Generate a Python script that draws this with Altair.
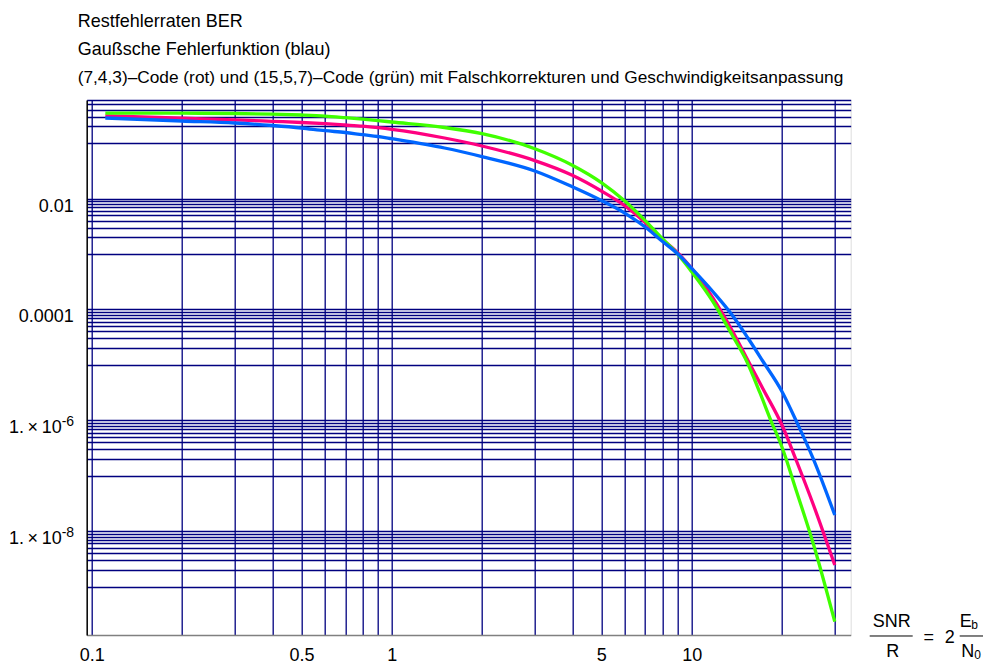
import altair as alt
import pandas as pd

# ---------------- data ----------------
blue_x = [0.111, 0.2, 0.3, 0.4, 0.5, 0.6, 0.7, 0.8, 0.9, 1.0, 1.5, 2.0, 3.0, 4.0, 5.0, 6.0, 7.0,
          8.0, 9.0, 10.0, 11.8, 13.7, 15.4, 17.3, 20.0, 22.4, 25.4, 30.0]
blue_y = [0.284, 0.251, 0.231, 0.208, 0.1875, 0.1676, 0.1555, 0.142, 0.1318, 0.1202, 0.0817, 0.0572,
          0.03144, 0.01631, 0.00923, 0.00542, 0.00307, 0.00168, 0.00100, 0.000550, 0.000206, 7.71e-5,
          3.05e-5, 1.15e-5, 3.31e-6, 9.32e-7, 2.06e-7, 1.96e-8]

red_x = [0.111, 0.2, 0.3, 0.4, 0.5, 0.6, 0.7, 0.8, 0.9, 1.0, 1.5, 2.0, 3.0, 4.0, 5.0, 6.0, 7.0,
         8.0, 9.0, 10.0, 11.8, 13.7, 15.6, 17.3, 20.0, 22.4, 25.4, 30.0]
red_y = [0.3113, 0.2818, 0.2636, 0.2477, 0.2357, 0.2242, 0.2125, 0.2021, 0.1899, 0.1777, 0.1238, 0.0888,
         0.0484, 0.0263, 0.0137, 0.00735, 0.00370, 0.001827, 0.001043, 0.000550, 0.0001576, 4.0e-5,
         1.054e-5, 3.67e-6, 8.23e-7, 1.806e-7, 3.09e-8, 2.45e-9]

green_x = [0.111, 0.2, 0.3, 0.4, 0.5, 0.6, 0.7, 0.8, 0.9, 1.0, 1.5, 2.0, 3.0, 4.0, 5.0, 6.0, 7.0,
           8.0, 9.0, 10.0, 11.8, 13.7, 15.3, 16.9, 18.4, 20.0, 22.4, 25.4, 30.0]
green_y = [0.3467, 0.3467, 0.3424, 0.334, 0.3218, 0.3074, 0.2877, 0.2703, 0.255, 0.2406, 0.1915, 0.148,
           0.0793, 0.04, 0.01941, 0.00893, 0.0040, 0.001866, 0.000984, 0.00048, 0.0001362, 3.32e-5,
           1.126e-5, 3.11e-6, 9.71e-7, 3.3e-7, 5.09e-8, 6.12e-9, 2.33e-10]

x_grid = [0.1, 0.2, 0.3, 0.4, 0.5, 0.6, 0.7, 0.8, 0.9, 1, 2, 3, 4, 5, 6, 7, 8, 9, 10, 20, 30]
x_labels = [0.1, 0.5, 1, 5, 10]

y_grid = [0.1, 0.2, 0.3, 0.4, 0.5, 0.6,
          0.001, 0.002, 0.003, 0.004, 0.005, 0.006, 0.007, 0.008, 0.009, 0.01,
          1e-5, 2e-5, 3e-5, 4e-5, 5e-5, 6e-5, 7e-5, 8e-5, 9e-5, 1e-4,
          1e-7, 2e-7, 3e-7, 4e-7, 5e-7, 6e-7, 7e-7, 8e-7, 9e-7, 1e-6,
          1e-9, 2e-9, 3e-9, 4e-9, 5e-9, 6e-9, 7e-9, 8e-9, 9e-9, 1e-8]

y_plain_vals = [0.01, 0.0001]
y_plain_text = ["0.01", "0.0001"]
y_pow_vals = [1e-6, 1e-8]
y_pow_base = ["1.\u2009×\u200910", "1.\u2009×\u200910"]
y_pow_sup = ["-6", "-8"]

x_domain = [0.0962, 33.9]
y_domain = [1.34e-10, 0.6]

title_lines = [
    "Restfehlerraten BER",
    "Gaußsche Fehlerfunktion (blau)",
    "(7,4,3)–Code (rot) und (15,5,7)–Code (grün) mit  Falschkorrekturen und Geschwindigkeitsanpassung",
]

FONT = "Liberation Sans"
NAVY = "#00007f"

curves = pd.concat([
    pd.DataFrame({"x": red_x, "y": red_y, "s": "rot"}),
    pd.DataFrame({"x": green_x, "y": green_y, "s": "grün"}),
    pd.DataFrame({"x": blue_x, "y": blue_y, "s": "blau"}),
])

xs = alt.Scale(type="log", domain=x_domain, nice=False)
ys = alt.Scale(type="log", domain=y_domain, nice=False)

x_axis = alt.Axis(values=x_grid, grid=True, gridColor=NAVY, gridWidth=1.3, ticks=False,
                  domainColor="#808080", domainWidth=1.5, labelFont=FONT, labelFontSize=18,
                  labelColor="black", labelPadding=12, labelOverlap=False, labelFlush=False,
                  format="~g",
                  labelExpr="indexof([0.1, 0.5, 1, 5, 10], datum.value) >= 0 ? datum.label : ''",
                  title=None)
y_axis = alt.Axis(values=y_grid, grid=True, gridColor=NAVY, gridWidth=1.3, ticks=False,
                  labels=False, domainColor="black", domainWidth=1.5, title=None)

base = alt.Chart(curves)

grid = base.mark_point(opacity=0).encode(
    x=alt.X("x:Q", scale=xs, axis=x_axis),
    y=alt.Y("y:Q", scale=ys, axis=y_axis),
)

colors = alt.Scale(domain=["rot", "grün", "blau"], range=["#FF0080", "#40FF00", "#0066FF"])
lines = base.mark_line(strokeWidth=3.3, interpolate="monotone").encode(
    x=alt.X("x:Q", scale=xs),
    y=alt.Y("y:Q", scale=ys),
    color=alt.Color("s:N", scale=colors, legend=None),
    detail="s:N",
    order=alt.Order("x:Q"),
)

plain = alt.Chart(pd.DataFrame({"v": y_plain_vals, "t": y_plain_text})).mark_text(
    font=FONT, fontSize=18, align="right", baseline="middle", dy=8
).encode(x=alt.value(-13), y=alt.Y("v:Q", scale=ys), text="t:N")

powb = alt.Chart(pd.DataFrame({"v": y_pow_vals, "t": y_pow_base})).mark_text(
    font=FONT, fontSize=18, align="right", baseline="middle", dy=8
).encode(x=alt.value(-25), y=alt.Y("v:Q", scale=ys), text="t:N")

pows = alt.Chart(pd.DataFrame({"v": y_pow_vals, "t": y_pow_sup})).mark_text(
    font=FONT, fontSize=14, align="left", baseline="middle", dy=2
).encode(x=alt.value(-25), y=alt.Y("v:Q", scale=ys), text="t:N")


def txt(s, x, y, size=18, align="left", baseline="alphabetic"):
    return alt.Chart(pd.DataFrame({"t": [s]})).mark_text(
        font=FONT, fontSize=size, align=align, baseline=baseline, color="black"
    ).encode(x=alt.value(x), y=alt.value(y), text="t:N")


def bar(x1, x2, y):
    return alt.Chart(pd.DataFrame({"t": [0]})).mark_rule(color="black", strokeWidth=1).encode(
        x=alt.value(x1), x2=alt.value(x2), y=alt.value(y))


titles = [
    txt(title_lines[0], -9, -73, 18),
    txt(title_lines[1], -9, -45, 18),
    txt(title_lines[2], -9, -17, 17.3),
]

frac = [
    txt("SNR", 805, 527, 18, "center"),
    bar(783, 826, 536),
    txt("R", 806, 557, 18, "center"),
    txt("=", 842, 543, 18, "center"),
    txt("2", 863, 543, 18, "center"),
    txt("E", 879, 527, 18, "center"),
    txt("b", 888, 529, 12, "center"),
    bar(873, 899, 536),
    txt("N", 881, 557, 18, "center"),
    txt("0", 891, 559, 12, "center"),
]

chart = alt.layer(grid, lines, plain, powb, pows, *titles, *frac).properties(
    width=764, height=535,
    autosize=alt.AutoSizeParams(type="none"),
    padding={"left": 78.7, "top": 92, "right": 132, "bottom": 30},
).configure_view(strokeWidth=0).configure(background="white")

chart.save("out.html", embed_options={"renderer": "svg", "actions": False})
